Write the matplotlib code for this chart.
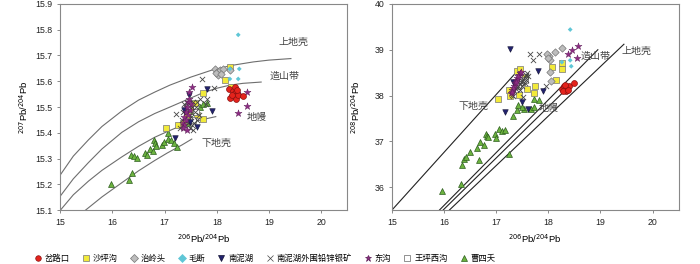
import matplotlib
matplotlib.use('Agg')
import matplotlib.pyplot as plt
from matplotlib.lines import Line2D

plt.rcParams['font.family'] = ['Liberation Sans', 'Noto Sans CJK SC']
plt.rcParams['axes.unicode_minus'] = False

# Zartman-Doe 模式曲线 (206Pb/204Pb, 207Pb/204Pb)
upper_crust_207 = [(15.0, 15.237), (15.25, 15.31), (15.54, 15.373), (15.8, 15.425), (16.18, 15.485),
                   (16.5, 15.527), (16.81, 15.558), (17.1, 15.585), (17.5, 15.616), (17.93, 15.645),
                   (18.3, 15.662), (18.7, 15.675), (19.0, 15.682), (19.42, 15.688)]
orogen_207 = [(15.0, 15.155), (15.25, 15.222), (15.54, 15.285), (15.8, 15.338), (16.18, 15.402),
              (16.5, 15.443), (16.81, 15.475), (17.1, 15.50), (17.5, 15.535), (17.74, 15.556),
              (18.0, 15.573), (18.25, 15.585), (18.5, 15.592), (18.85, 15.597)]
mantle_207 = [(15.0, 15.1), (15.25, 15.16), (15.54, 15.213), (15.8, 15.255), (16.18, 15.307),
              (16.5, 15.348), (16.81, 15.383), (17.05, 15.405), (17.26, 15.423), (17.6, 15.446),
              (17.98, 15.463)]
lower_crust_207 = [(15.48, 15.1), (15.8, 15.152), (16.18, 15.207), (16.5, 15.253), (16.81, 15.293),
                   (17.05, 15.322), (17.33, 15.353), (17.52, 15.376)]

# 模式线 (206Pb/204Pb, 208Pb/204Pb)
lower_crust_208 = [(15.0, 35.5), (17.38, 38.5)]
orogen_208 = [(15.91, 35.5), (18.95, 39.0)]
mantle_208 = [(15.98, 35.5), (18.4, 38.2)]
upper_crust_208 = [(16.10, 35.5), (19.45, 39.12)]

# 样品数据
chaluko_207 = [(18.24, 15.569), (18.31, 15.564), (18.35, 15.554), (18.32, 15.541), (18.25, 15.534),
               (18.37, 15.530), (18.41, 15.547), (18.51, 15.541), (18.34, 15.577), (18.29, 15.547),
               (18.38, 15.567)]
chaluko_208 = [(18.26, 38.15), (18.30, 38.20), (18.35, 38.17), (18.34, 38.11), (18.29, 38.10),
               (18.40, 38.20), (18.50, 38.27), (18.38, 38.13), (18.32, 38.24)]

shapinggou_207 = [(17.03, 15.418), (17.26, 15.431), (17.35, 15.44), (17.58, 15.515), (17.74, 15.554),
                  (17.74, 15.453), (18.15, 15.605), (18.27, 15.577), (18.25, 15.657), (17.42, 15.47),
                  (17.49, 15.495), (17.62, 15.47)]
shapinggou_208 = [(17.03, 37.93), (17.25, 38.12), (17.41, 38.53), (17.46, 38.57), (17.27, 38.00),
                  (17.43, 38.02), (17.59, 38.15), (17.73, 38.05), (17.74, 38.22), (17.55, 38.40),
                  (18.08, 38.62), (18.15, 38.35), (18.26, 38.71), (18.26, 38.58), (17.49, 38.29)]

zhilingtou_207 = [(17.97, 15.647), (18.01, 15.634), (18.06, 15.642), (18.03, 15.625), (18.11, 15.647),
                  (18.25, 15.642), (17.99, 15.631), (18.08, 15.629)]
zhilingtou_208 = [(18.02, 38.87), (18.03, 38.78), (18.13, 38.96), (18.26, 39.03), (18.03, 38.51),
                  (18.05, 38.32), (17.98, 38.91), (18.00, 38.82)]

maoduan_207 = [(18.41, 15.78), (18.43, 15.648), (18.25, 15.609), (18.41, 15.609), (18.25, 15.648)]
maoduan_208 = [(18.42, 39.44), (18.42, 38.77), (18.44, 38.64), (18.26, 38.73)]

nannihu_207 = [(17.46, 15.547), (17.81, 15.569), (17.90, 15.483), (17.19, 15.379), (17.62, 15.424),
               (17.37, 15.489), (17.49, 15.444)]
nannihu_208 = [(17.27, 39.02), (17.81, 38.53), (17.89, 38.09), (17.18, 37.64), (17.49, 37.86),
               (17.61, 37.71), (17.33, 38.29)]

nannihu_wai_207 = [(17.30, 15.42), (17.33, 15.45), (17.36, 15.48), (17.40, 15.50), (17.43, 15.52),
                   (17.47, 15.49), (17.50, 15.46), (17.52, 15.50), (17.55, 15.52), (17.58, 15.48),
                   (17.60, 15.50), (17.62, 15.52), (17.57, 15.44), (17.52, 15.43), (17.45, 15.44),
                   (17.38, 15.51), (17.65, 15.47), (17.55, 15.41), (17.62, 15.45), (17.68, 15.53),
                   (17.72, 15.609), (17.95, 15.573), (17.21, 15.473), (17.81, 15.530), (17.49, 15.418),
                   (17.80, 15.51)]
nannihu_wai_208 = [(17.30, 38.02), (17.35, 38.10), (17.40, 38.18), (17.45, 38.25), (17.50, 38.32),
                   (17.55, 38.40), (17.58, 38.45), (17.60, 38.50), (17.52, 38.36), (17.47, 38.30),
                   (17.42, 38.22), (17.38, 38.14), (17.62, 38.42), (17.57, 38.35), (17.50, 38.20),
                   (17.45, 38.12), (17.55, 38.28), (17.65, 38.91), (17.83, 38.90), (17.71, 38.77),
                   (17.96, 38.20), (17.52, 37.98), (17.32, 38.00)]

donggou_207 = [(17.35, 15.44), (17.38, 15.46), (17.40, 15.48), (17.42, 15.50), (17.44, 15.52),
               (17.37, 15.43), (17.45, 15.47), (17.48, 15.49), (17.36, 15.42), (17.41, 15.45),
               (17.50, 15.51), (17.46, 15.53), (17.43, 15.41), (17.53, 15.577), (17.47, 15.56),
               (18.57, 15.559), (18.57, 15.505), (18.40, 15.476), (18.45, 15.545)]
donggou_208 = [(17.28, 38.05), (17.31, 38.12), (17.34, 38.20), (17.36, 38.27), (17.38, 38.33),
               (17.41, 38.39), (17.43, 38.45), (17.45, 38.50), (17.33, 38.16), (17.39, 38.30),
               (17.42, 38.42), (17.30, 38.08), (17.47, 38.52), (18.38, 38.91), (18.46, 39.00),
               (18.57, 39.08), (18.55, 38.82)]

wangpingxigou_207 = [(17.55, 15.45), (17.60, 15.48), (17.45, 15.50)]
wangpingxigou_208 = [(17.50, 38.30), (17.55, 38.35), (17.42, 38.20)]

caosiyao_207 = [(15.97, 15.203), (16.32, 15.218), (16.38, 15.246), (16.35, 15.313), (16.41, 15.311),
                (16.48, 15.302), (16.62, 15.321), (16.67, 15.315), (16.72, 15.338), (16.77, 15.331),
                (16.79, 15.373), (16.82, 15.36), (16.84, 15.349), (16.94, 15.353), (16.98, 15.366),
                (17.07, 15.375), (17.12, 15.373), (17.17, 15.36), (17.24, 15.347), (17.06, 15.399),
                (17.42, 15.437), (17.54, 15.483), (17.68, 15.502), (17.81, 15.515), (17.74, 15.512),
                (17.49, 15.463)]
caosiyao_208 = [(15.96, 35.92), (16.32, 36.07), (16.35, 36.49), (16.39, 36.62), (16.43, 36.67),
                (16.50, 36.78), (16.63, 36.86), (16.68, 36.59), (16.69, 36.99), (16.77, 36.93),
                (16.80, 37.17), (16.82, 37.11), (16.85, 37.09), (16.98, 37.17), (16.99, 37.07),
                (17.06, 37.28), (17.11, 37.22), (17.17, 37.24), (17.24, 36.72), (17.32, 37.55),
                (17.40, 37.68), (17.42, 37.79), (17.53, 37.71), (17.67, 37.71), (17.72, 37.76),
                (17.73, 37.93), (17.83, 37.91), (17.49, 37.75)]

# (名称, 207数据, 208数据, 样式) 绘图顺序
groups = [
    ('曹四夭', caosiyao_207, caosiyao_208, dict(marker='^', c='#6cb33f', edgecolors='#2d5e1e', s=18, linewidths=0.5)),
    ('沙坪沟', shapinggou_207, shapinggou_208, dict(marker='s', c='#f2ea3a', edgecolors='#777777', s=16, linewidths=0.5)),
    ('王坪西沟', wangpingxigou_207, wangpingxigou_208, dict(marker='s', c='white', edgecolors='#666666', s=14, linewidths=0.5)),
    ('南泥湖外围铅锌银矿', nannihu_wai_207, nannihu_wai_208, dict(marker='x', c='#444444', s=14, linewidths=0.6)),
    ('南泥湖', nannihu_207, nannihu_208, dict(marker='v', c='#22226e', edgecolors='#111133', s=16, linewidths=0.4)),
    ('东沟', donggou_207, donggou_208, dict(marker='*', c='#8e2c84', edgecolors='#5a1a55', s=28, linewidths=0.3)),
    ('治岭头', zhilingtou_207, zhilingtou_208, dict(marker='D', c='#bdbdbd', edgecolors='#777777', s=14, linewidths=0.5)),
    ('毛断', maoduan_207, maoduan_208, dict(marker='D', c='#5fc6d6', edgecolors='none', s=6)),
    ('岔路口', chaluko_207, chaluko_208, dict(marker='o', c='#e4231c', edgecolors='#8a1010', s=18, linewidths=0.5)),
]
legend_order = ['岔路口', '沙坪沟', '治岭头', '毛断', '南泥湖', '南泥湖外围铅锌银矿', '东沟', '王坪西沟', '曹四夭']

fig = plt.figure(figsize=(7.0, 2.64), dpi=100)
ax1 = fig.add_axes([0.0861, 0.2034, 0.410, 0.782])
ax2 = fig.add_axes([0.5596, 0.2034, 0.410, 0.782])

curve_col = '#6e6e6e'
for pts in [upper_crust_207, orogen_207, mantle_207, lower_crust_207]:
    xs, ys = zip(*pts)
    ax1.plot(xs, ys, color=curve_col, lw=0.8, zorder=1)
for pts in [lower_crust_208, orogen_208, mantle_208, upper_crust_208]:
    xs, ys = zip(*pts)
    ax2.plot(xs, ys, color='#222222', lw=0.8, zorder=1)

for name, d207, d208, st in groups:
    x, y = zip(*d207)
    ax1.scatter(x, y, zorder=3, **st)
    x, y = zip(*d208)
    ax2.scatter(x, y, zorder=3, **st)

lab = dict(fontsize=7.2, color='#444444', ha='center', va='center')
ax1.text(19.46, 15.753, '上地壳', **lab)
ax1.text(19.29, 15.62, '造山带', **lab)
ax1.text(18.77, 15.46, '地幔', **lab)
ax1.text(18.0, 15.36, '下地壳', **lab)
ax2.text(16.56, 37.78, '下地壳', **lab)
ax2.text(18.01, 37.72, '地幔', **lab)
ax2.text(18.90, 38.87, '造山带', **lab)
ax2.text(19.70, 38.98, '上地壳', **lab)

for ax in (ax1, ax2):
    ax.set_xlim(15, 20.5)
    ax.set_xticks([15, 16, 17, 18, 19, 20])
    ax.tick_params(direction='out', length=2.5, width=0.6, labelsize=6.3,
                   colors='#777777', labelcolor='#222222', pad=3)
    for sp in ax.spines.values():
        sp.set_color('#888888')
        sp.set_linewidth(0.8)
    ax.set_xlabel(r'$^{206}$Pb/$^{204}$Pb', fontsize=6.8, labelpad=4)

ax1.set_ylim(15.1, 15.9)
ax1.set_yticks([15.1, 15.2, 15.3, 15.4, 15.5, 15.6, 15.7, 15.8, 15.9])
ax1.set_ylabel(r'$^{207}$Pb/$^{204}$Pb', fontsize=6.8, labelpad=4)
ax2.set_ylim(35.5, 40)
ax2.set_yticks([36, 37, 38, 39, 40])
ax2.set_ylabel(r'$^{208}$Pb/$^{204}$Pb', fontsize=6.8, labelpad=9)

# 图例
style = {g[0]: g[3] for g in groups}
handles = []
for name in legend_order:
    st = style[name]
    fc = st['c']
    ec = st.get('edgecolors', fc)
    if ec == 'none':
        ec = fc
    handles.append(Line2D([], [], ls='none', marker=st['marker'], markerfacecolor=fc,
                          markeredgecolor=ec if st['marker'] != 'x' else fc,
                          markersize=4 if st['marker'] != '*' else 5, markeredgewidth=0.5, label=name))
fig.legend(handles=handles, loc='lower center', bbox_to_anchor=(0.378, -0.025), ncol=9,
           frameon=False, fontsize=6, handletextpad=0.3, columnspacing=1.45, handlelength=1.0)

fig.savefig('out.png', dpi=100)
